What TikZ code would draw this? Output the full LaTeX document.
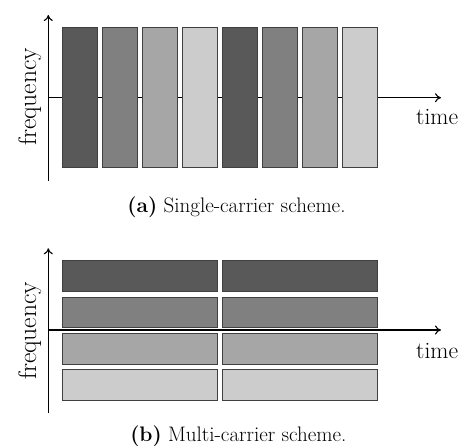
\documentclass[tikz,border=0pt]{standalone}
\usetikzlibrary{arrows.meta}
\begin{document}
\begin{tikzpicture}[x=1pt,y=-1pt,
  axis/.style={line width=1.1pt,-{To[length=6pt,width=9pt]}},
  blk/.style={draw=black!75,line width=0.9pt,inner sep=0pt,outer sep=0pt},
  shA/.style={fill=black!65},
  shB/.style={fill=black!50},
  shC/.style={fill=black!35},
  shD/.style={fill=black!20},
  lbl/.style={inner sep=0pt,font=\fontsize{23.5}{28}\selectfont},
  flbl/.style={inner sep=0pt,font=\fontsize{25.5}{30}\selectfont},
  captext/.style={inner sep=0pt,font=\fontsize{21}{25}\selectfont}]
\useasboundingbox (0,0) rectangle (466,446);

% ---- single-carrier panel ----
\coordinate (a0) at (48.3,180.7);
\coordinate (atop) at (48.3,15);
\coordinate (aleft) at (48.3,97.7);
\coordinate (aright) at (441,97.7);
\draw[axis] (a0) -- (atop);
\draw[axis] (aleft) -- (aright);
\foreach \i/\s in {0/shA,1/shB,2/shC,3/shD,4/shA,5/shB,6/shC,7/shD}{
  \node[blk,\s,minimum width=35pt,minimum height=139.6pt] (s\i) at ({79.8+40*\i},97.5) {};
}
\node[lbl,anchor=base west] (ta) at (416,125) {time};
\node[flbl,anchor=base,rotate=90] (fa) at (36,97) {frequency};
\node[captext,anchor=base] (capa) at (236.5,213) {\textbf{(a)} Single-carrier scheme.};

% ---- multi-carrier panel ----
\coordinate (b0) at (48.3,413.3);
\coordinate (btop) at (48.3,248.3);
\coordinate (bleft) at (48.3,330);
\coordinate (bright) at (441,330);
\draw[axis] (b0) -- (btop);
\draw[axis] (bleft) -- (bright);
\foreach \r/\s in {0/shA,1/shB,2/shC,3/shD}{
  \foreach \c in {0,1}{
    \node[blk,\s,minimum width=155.4pt,minimum height=30.6pt] (m\r\c) at ({140+160*\c},{276+36.4*\r}) {};
  }
}
\node[lbl,anchor=base west] (tb) at (416,358.3) {time};
\node[flbl,anchor=base,rotate=90] (fb) at (36,331) {frequency};
\node[captext,anchor=base] (capb) at (238.3,441.7) {\textbf{(b)} Multi-carrier scheme.};
\end{tikzpicture}
\end{document}
